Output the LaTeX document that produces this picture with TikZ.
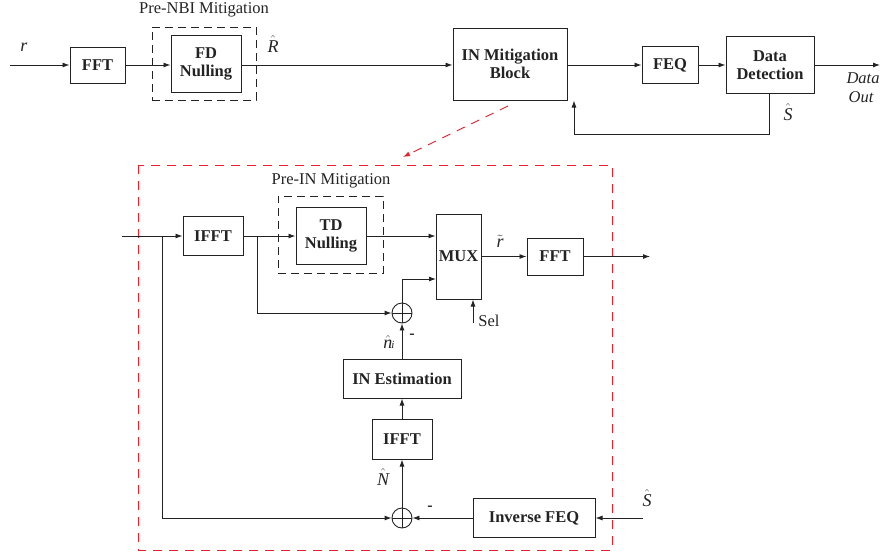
\documentclass[tikz,border=0pt]{standalone}
\usepackage{fontspec}
\setmainfont{Liberation Serif}
\usetikzlibrary{arrows.meta,calc}
\definecolor{redd}{RGB}{232,32,42}
\definecolor{ink}{RGB}{35,35,35}
\newcommand\hatit[1]{$\hat{\mbox{\itshape #1}}$}
\newcommand\tilit[1]{$\tilde{\mbox{\itshape #1}}$}
\begin{document}
\begin{tikzpicture}[x=1pt,y=-1pt,
  every node/.style={text=ink},
  blk/.style={draw=ink,line width=1pt,rectangle,inner sep=0pt,align=center,
    font=\fontsize{16.5}{18}\selectfont\bfseries},
  grp/.style={draw=ink,line width=0.9pt,dash pattern=on 8pt off 5pt,rectangle,inner sep=0pt},
  arr/.style={draw=ink,line width=0.9pt,-{Latex[length=7pt,width=5pt]}},
  sum/.style={draw=ink,line width=0.9pt,circle,minimum size=20pt,inner sep=0pt,
    path picture={\draw[ink,line width=0.8pt] (path picture bounding box.north) -- (path picture bounding box.south)
      (path picture bounding box.west) -- (path picture bounding box.east);}},
  lbl/.style={font=\fontsize{16.5}{18}\selectfont},
  mlbl/.style={font=\fontsize{18}{18}\selectfont,inner sep=1pt},
  minus/.style={font=\fontsize{16}{18}\selectfont\bfseries}
]
\useasboundingbox (0,0) rectangle (881,555);

% ---------- top chain ----------
\coordinate (in1) at (10,65);
\node[blk,minimum width=55pt,minimum height=36pt] (fft1) at (97.5,65) {FFT};
\node[grp,minimum width=104pt,minimum height=73pt] (prenbi) at (204,63.5) {};
\node[lbl] (prenbil) at (204,10) {Pre-NBI Mitigation};
\node[blk,minimum width=70pt,minimum height=57pt] (fd) at (206,64) {FD\\Nulling};
\node[blk,minimum width=114pt,minimum height=72pt] (inb) at (510,64) {IN Mitigation\\Block};
\node[blk,minimum width=56pt,minimum height=37pt] (feq) at (670,65) {FEQ};
\node[blk,minimum width=88pt,minimum height=57pt] (dd) at (770,65) {Data\\Detection};
\coordinate (out1) at (880,65);
\coordinate (fb) at (574,134);

\node[mlbl] (rl) at (24,47) {\itshape r};
\node[mlbl] (Rl) at (273,44) {\hatit{R}};
\node[mlbl] (Sl) at (788,112) {\hatit{S}};
\node[lbl,font=\fontsize{16.5}{18}\selectfont\itshape] (dl) at (863,78) {Data};
\node[lbl,font=\fontsize{16.5}{18}\selectfont\itshape] (ol) at (861,97) {Out};

\draw[arr] (in1) -- (fft1.west);
\draw[arr] (fft1.east) -- (fd.west |- fft1.east);
\draw[arr] (fd.east |- in1) -- (inb.west |- in1);
\draw[arr] (inb.east |- in1) -- (feq.west);
\draw[arr] (feq.east) -- (dd.west);
\draw[arr] (dd.east) -- (out1);
\draw[arr] (dd.south -| 769,0) |- (fb) -- (fb |- inb.south);

% ---------- red zoom ----------
\coordinate (ra) at (508,106);
\coordinate (rb) at (403,157);
\draw[draw=redd,line width=0.9pt,dash pattern=on 9pt off 7pt,-{Latex[length=7pt,width=5pt]}] (ra) -- (rb);
\draw[draw=redd,line width=0.9pt,dash pattern=on 9pt off 7pt] (138,165) rectangle (612,550);

% ---------- inner ----------
\coordinate (in2) at (122,236);
\coordinate (j1) at (162,236);
\coordinate (j2) at (257,236);
\node[blk,minimum width=60pt,minimum height=39pt] (ifft1) at (213,236) {IFFT};
\node[grp,minimum width=105pt,minimum height=77pt] (prein) at (330.5,234.5) {};
\node[lbl] (preinl) at (331,181) {Pre-IN Mitigation};
\node[blk,minimum width=70pt,minimum height=57pt] (td) at (331,236) {TD\\Nulling};
\node[blk,minimum width=45pt,minimum height=85pt] (mux) at (458.5,256.5) {MUX};
\node[blk,minimum width=56pt,minimum height=37pt] (fft2) at (555,256.5) {FFT};
\coordinate (out2) at (650,256.5);
\coordinate (m2) at (436,279);
\coordinate (sel) at (473,323);
\node[lbl] (sell) at (489,321) {Sel};
\node[sum] (c1) at (402,313) {};
\node[blk,minimum width=118pt,minimum height=39pt] (inest) at (402,378.5) {IN Estimation};
\node[blk,minimum width=60pt,minimum height=40pt] (ifft2) at (402,439) {IFFT};
\node[sum] (c2) at (402,518) {};
\node[blk,minimum width=122pt,minimum height=39pt] (invfeq) at (534,518) {Inverse FEQ};
\coordinate (sin) at (643,518);

\node[mlbl] (rtl) at (500,241) {\tilit{r}};
\node[mlbl] (nil) at (389,342) {\hatit{n}\kern-1pt{\fontsize{11}{12}\selectfont\itshape i}};
\node[minus] (m1l) at (412,336) {-};
\node[mlbl] (Nl) at (383,477) {\hatit{N}};
\node[minus] (m2l) at (430,508) {-};
\node[mlbl] (S2l) at (647,498) {\hatit{S}};

\draw[arr] (in2) -- (ifft1.west);
\draw[arr] (j1) |- (c2.west);
\draw[arr] (ifft1.east) -- (td.west);
\draw[arr] (j2) |- (c1.west);
\draw[arr] (td.east) -- (td.east -| mux.west);
\draw[arr] (c1.north) |- (m2);
\draw[arr] (mux.east) -- (fft2.west);
\draw[arr] (fft2.east) -- (out2);
\draw[arr] (sel) -- (sel |- mux.south);
\draw[arr] (inest.north) -- (c1.south);
\draw[arr] (ifft2.north) -- (inest.south);
\draw[arr] (c2.north) -- (ifft2.south);
\draw[arr] (invfeq.west) -- (c2.east);
\draw[arr] (sin) -- (invfeq.east);
\end{tikzpicture}
\end{document}
